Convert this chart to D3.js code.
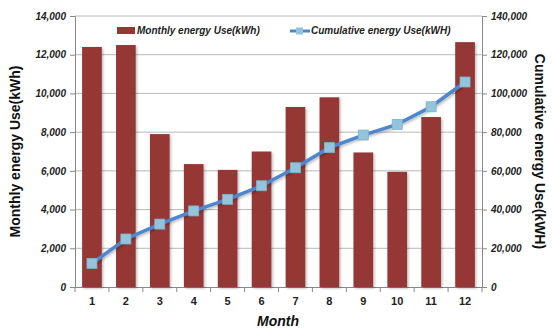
<!DOCTYPE html>
<html><head><meta charset="utf-8">
<script src="https://cdn.jsdelivr.net/npm/d3@7"></script>
<style>body{margin:0;background:#fff}</style>
</head><body>
<script>
const months = ["1","2","3","4","5","6","7","8","9","10","11","12"];
const monthly = [12400, 12500, 7900, 6350, 6050, 7000, 9300, 9800, 6950, 5950, 8780, 12650];
const cumulative = [12200, 24800, 32500, 39300, 45300, 52300, 61600, 72000, 78500, 84000, 93100, 105900];
const leftTicks = [0,2000,4000,6000,8000,10000,12000,14000];
const rightTicks = [0,20000,40000,60000,80000,100000,120000,140000];

const W=552,H=331;
const m={l:75,r:70,t:16,b:44};
const svg=d3.select("body").append("svg").attr("width",W).attr("height",H);
const x=d3.scaleBand().domain(months).range([m.l,W-m.r]).paddingInner(0.42).paddingOuter(0.21);
const xs=d3.scaleBand().domain(months).range([m.l,W-m.r]);
const yL=d3.scaleLinear().domain([0,14000]).range([H-m.b,m.t]);
const yR=d3.scaleLinear().domain([0,140000]).range([H-m.b,m.t]);
const fmt=d3.format(",");
const font="'Liberation Sans', Arial, sans-serif";

const defs=svg.append("defs");
const f=defs.append("filter").attr("id","sh").attr("x","-20%").attr("y","-20%").attr("width","150%").attr("height","150%");
f.append("feDropShadow").attr("dx",1.5).attr("dy",1.5).attr("stdDeviation",1).attr("flood-color","#000").attr("flood-opacity",0.25);

// gridlines
svg.append("g").selectAll("line").data(leftTicks.slice(1)).join("line")
 .attr("x1",m.l).attr("x2",W-m.r).attr("y1",d=>yL(d)).attr("y2",d=>yL(d))
 .attr("stroke","#b8b8b8").attr("stroke-width",1);

// left axis
const gl=svg.append("g").attr("transform",`translate(${m.l},0)`)
 .call(d3.axisLeft(yL).tickValues(leftTicks).tickFormat(fmt).tickSize(5).tickPadding(4));
// right axis
const gr=svg.append("g").attr("transform",`translate(${W-m.r},0)`)
 .call(d3.axisRight(yR).tickValues(rightTicks).tickFormat(fmt).tickSize(5).tickPadding(4));
// bottom axis
const gb=svg.append("g").attr("transform",`translate(0,${H-m.b})`)
 .call(d3.axisBottom(xs).tickSize(0).tickPadding(10));
gb.append("g").selectAll("line").data(months.concat(["end"])).join("line")
 .attr("x1",(d,i)=>m.l+i*xs.step()).attr("x2",(d,i)=>m.l+i*xs.step()).attr("y1",0).attr("y2",5).attr("stroke","#888");

[gl,gr,gb].forEach(g=>{
  g.select(".domain").attr("stroke","#888");
  g.selectAll(".tick line").attr("stroke","#888");
});
gl.selectAll("text").attr("font-family",font).attr("font-size",10).attr("font-weight","bold").attr("font-style","italic").attr("fill","#222");
gr.selectAll("text").attr("font-family",font).attr("font-size",10).attr("font-weight","bold").attr("font-style","italic").attr("fill","#222");
gb.selectAll("text").attr("font-family",font).attr("font-size",11).attr("font-weight","bold").attr("fill","#222");

// bars
svg.append("g").selectAll("rect").data(monthly).join("rect")
 .attr("x",(d,i)=>x(months[i])).attr("width",x.bandwidth())
 .attr("y",d=>yL(d)).attr("height",d=>yL(0)-yL(d))
 .attr("fill","#953735").attr("filter","url(#sh)");

// line
const line=d3.line().x((d,i)=>xs(months[i])+xs.bandwidth()/2).y(d=>yR(d));
svg.append("path").datum(cumulative).attr("d",line).attr("fill","none")
 .attr("stroke","#4f86d0").attr("stroke-width",3.5).attr("filter","url(#sh)");
svg.append("g").selectAll("rect").data(cumulative).join("rect")
 .attr("x",(d,i)=>xs(months[i])+xs.bandwidth()/2-5).attr("y",d=>yR(d)-5)
 .attr("width",10).attr("height",10).attr("fill","#92c5db").attr("stroke","#7fb3cc").attr("stroke-width",0.8);

// legend
svg.append("rect").attr("x",117).attr("y",27).attr("width",18).attr("height",7).attr("fill","#953735");
svg.append("text").attr("x",137).attr("y",34).text("Monthly energy Use(kWh)")
 .attr("font-family",font).attr("font-size",10).attr("font-style","italic").attr("font-weight","bold").attr("fill","#222");
svg.append("line").attr("x1",290).attr("x2",310).attr("y1",31).attr("y2",31).attr("stroke","#4f86d0").attr("stroke-width",3);
svg.append("rect").attr("x",296).attr("y",27.5).attr("width",7).attr("height",7).attr("fill","#92c5db");
svg.append("text").attr("x",311).attr("y",34).text("Cumulative energy Use(kWH)")
 .attr("font-family",font).attr("font-size",10).attr("font-style","italic").attr("font-weight","bold").attr("fill","#222");

// titles
svg.append("text").attr("transform",`translate(20,${(m.t+H-m.b)/2}) rotate(-90)`).attr("text-anchor","middle")
 .text("Monthly energy Use(kWh)").attr("font-family",font).attr("font-size",14).attr("font-weight","bold").attr("fill","#111");
svg.append("text").attr("transform",`translate(535,${(m.t+H-m.b)/2}) rotate(90)`).attr("text-anchor","middle")
 .text("Cumulative energy Use(kWH)").attr("font-family",font).attr("font-size",14).attr("font-weight","bold").attr("fill","#111");
svg.append("text").attr("x",278).attr("y",326).attr("text-anchor","middle").text("Month")
 .attr("font-family",font).attr("font-size",14).attr("font-weight","bold").attr("font-style","italic").attr("fill","#111");
</script>
</body></html>
